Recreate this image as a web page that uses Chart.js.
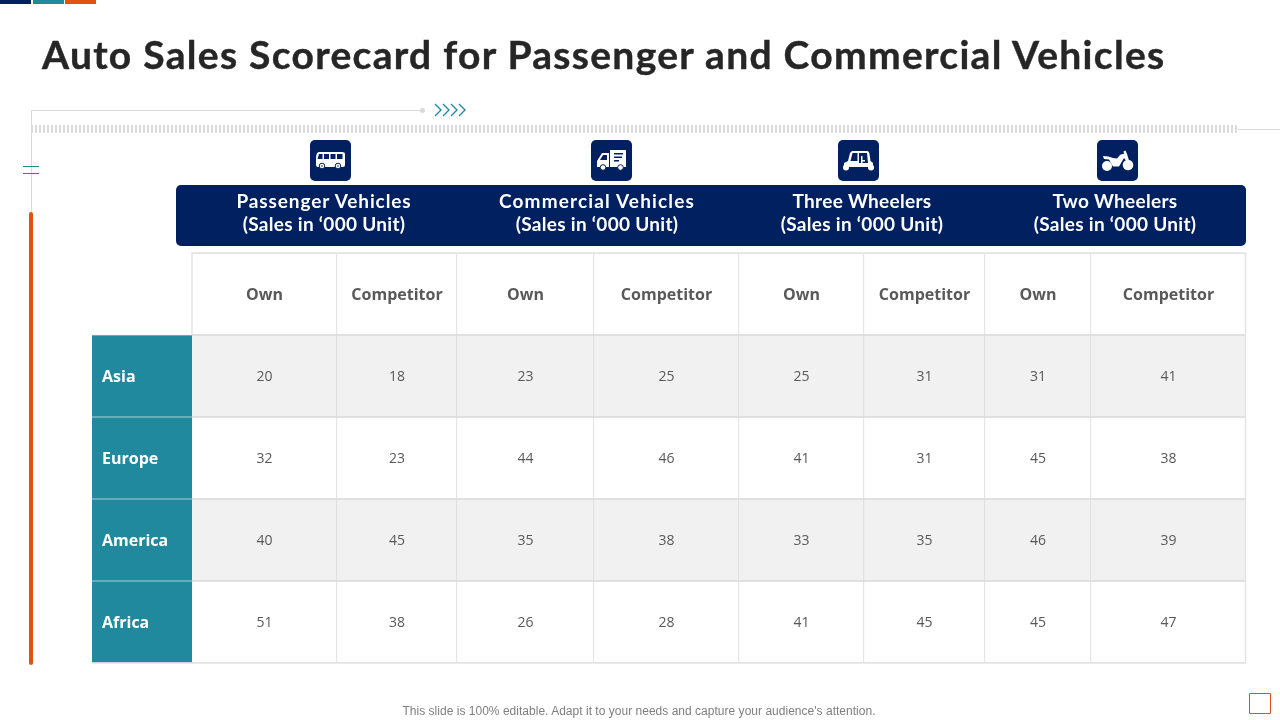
<!DOCTYPE html>
<html>
<head>
<meta charset="utf-8">
<title>Auto Sales Scorecard</title>
<script src="https://cdn.jsdelivr.net/npm/chart.js@4"></script>
<style>
  html, body { margin: 0; padding: 0; background: #fff; }
  #slide { position: relative; width: 1280px; height: 720px; overflow: hidden; }
  #slide > * { position: absolute; }
  canvas { left: 0; top: 0; }
  h1 { left: 42px; top: 31px; margin: 0; font: 700 39px/46px Lato, sans-serif; letter-spacing: 1.29px; color: #262626; white-space: nowrap; -webkit-text-stroke: .4px #262626; }
  .strip { top: 0; height: 4px; width: 31px; }
  .rule { background: #d9d9d9; }
  .ticks { left: 31px; top: 125px; width: 1206px; height: 8px; background: repeating-linear-gradient(90deg, #dcdcdc 0 2px, #fff 2px 4px); }
  #banner { left: 176px; top: 185px; width: 1070px; height: 61px; background: #002060; border-radius: 5px; }
  .head { top: 189px; width: 260px; text-align: center; font: 700 19px/23px Lato, sans-serif; letter-spacing: .3px; color: #fff; white-space: nowrap; }
  .icon { top: 140px; width: 41px; height: 41px; }
  #note { left: 0; width: 1278px; top: 704px; text-align: center; font: 12px/14px "Liberation Sans", sans-serif; letter-spacing: .02px; color: #7f7f7f; }
  #corner { left: 1249px; top: 693px; width: 20px; height: 19px; border: 1px solid #d9541e; border-radius: 1px; }
</style>
</head>
<body>
<div id="slide">
  <canvas id="scorecard" width="1280" height="720"></canvas>

  <div class="strip" style="left:0;background:#002060"></div>
  <div class="strip" style="left:33px;background:#21899e"></div>
  <div class="strip" style="left:65px;background:#e0530f"></div>
  <h1>Auto Sales Scorecard for Passenger and Commercial Vehicles</h1>

  <div class="rule" style="left:31px;top:110px;width:391px;height:1px"></div>
  <div class="rule" style="left:31px;top:110px;width:1px;height:102px"></div>
  <div class="rule" style="left:420px;top:108px;width:5px;height:5px;border-radius:50%"></div>
  <svg style="left:433px;top:103px" width="34" height="14" fill="none" stroke="#21899e" stroke-width="1.4">
    <path d="M2 1l6 6-6 6M10 1l6 6-6 6M18 1l6 6-6 6M26 1l6 6-6 6"/>
  </svg>
  <div class="ticks"></div>
  <div class="rule" style="left:1238px;top:129px;width:42px;height:1px"></div>
  <div style="left:23px;top:166px;width:16px;height:1px;background:#21899e"></div>
  <div style="left:23px;top:173px;width:16px;height:1px;background:#21899e"></div>
  <div style="left:29px;top:212px;width:4px;height:453px;border-radius:2px;background:#e0530f"></div>

  <div id="banner"></div>
  <div class="head" style="left:194px"><span style="letter-spacing:.9px">Passenger Vehicles</span><br>(Sales in ‘000 Unit)</div>
  <div class="head" style="left:467px"><span style="letter-spacing:1.15px">Commercial Vehicles</span><br>(Sales in ‘000 Unit)</div>
  <div class="head" style="left:732px">Three Wheelers<br>(Sales in ‘000 Unit)</div>
  <div class="head" style="left:985px">Two Wheelers<br>(Sales in ‘000 Unit)</div>

  <svg class="icon" style="left:310px" viewBox="0 0 41 41">
    <rect width="41" height="41" rx="5" fill="#002060"/>
    <path fill="#fff" d="M9 12h23q3 0 3 2v11q0 2-2 2H8q-2 0-2-2v-6q0-7 3-7z"/>
    <path fill="#002060" d="M9 14h3.5v5H7.5zM14 14h5v5h-5zM20.5 14h5v5h-5zM27 14h5.500v5H27z"/>
    <circle cx="12" cy="26" r="2.800" fill="#fff" stroke="#002060"/><circle cx="28" cy="26" r="2.800" fill="#fff" stroke="#002060"/>
    <circle cx="12" cy="26" r=".8" fill="#002060"/><circle cx="28" cy="26" r=".8" fill="#002060"/>
  </svg>
  <svg class="icon" style="left:591px" viewBox="0 0 41 41">
    <rect width="41" height="41" rx="5" fill="#002060"/>
    <path fill="#fff" d="M19 10h16v17H19zM18 13v14H6v-6l5-8z"/>
    <path fill="#002060" d="M12 15h4v5H9zM23 13h9v1.400h-9zM23 16.500h8v1.400h-8zM23 20h5v1.400h-5z"/>
    <circle cx="12" cy="27.500" r="2.800" fill="#fff" stroke="#002060"/><circle cx="29.500" cy="27.500" r="2.800" fill="#fff" stroke="#002060"/>
  </svg>
  <svg class="icon" style="left:838px" viewBox="0 0 41 41">
    <rect width="41" height="41" rx="5" fill="#002060"/>
    <path fill="#fff" d="M14 11h15q2 0 2.500 3l1 7 2.500 2v4H6v-4l4-2 2-8z"/>
    <path fill="#002060" d="M14.500 13h5v8h-7zM21 13h8l1 10h-9z"/>
    <path fill="#fff" d="M23 16h1.500v4H27v1.500h-2.500V25H23z"/>
    <circle cx="8" cy="27.500" r="3" fill="#fff"/><circle cx="33" cy="27.500" r="3" fill="#fff"/>
  </svg>
  <svg class="icon" style="left:1097px" viewBox="0 0 41 41">
    <rect width="41" height="41" rx="5" fill="#002060"/>
    <circle cx="10" cy="26" r="5" fill="#fff"/><circle cx="31" cy="25" r="5.300" fill="#fff"/>
    <path fill="#fff" d="M6 16q6 0 10 2l4 .5 3-3.500q2-1.500 4-1l-.5-2.500 2-1 1.500 3.500 2.500 8-2 .5-3.500-4.500-5 8.500h-6l-4-7-5-.5z"/>
  </svg>

  <div id="note">This slide is 100% editable. Adapt it to your needs and capture your audience's attention.</div>
  <div id="corner"></div>
</div>

<script>
const regions = ["Asia", "Europe", "America", "Africa"];
const subHeaders = ["Own", "Competitor", "Own", "Competitor", "Own", "Competitor", "Own", "Competitor"];

const passengerOwn = [20, 32, 40, 51];
const passengerCompetitor = [18, 23, 45, 38];
const commercialOwn = [23, 44, 35, 26];
const commercialCompetitor = [25, 46, 38, 28];
const threeWheelerOwn = [25, 41, 33, 41];
const threeWheelerCompetitor = [31, 31, 35, 45];
const twoWheelerOwn = [31, 45, 46, 45];
const twoWheelerCompetitor = [41, 38, 39, 47];

const series = [
  passengerOwn, passengerCompetitor,
  commercialOwn, commercialCompetitor,
  threeWheelerOwn, threeWheelerCompetitor,
  twoWheelerOwn, twoWheelerCompetitor,
];

// column widths of the table, first one is the region column
const regionColumnWidth = 100;
const columnWidths = [145, 120, 137, 145, 125, 121, 106, 155];

const TEAL = "#21899e";
const LINE = "#d9d9d9";
const OUTLINE = "#e4e4e4";
const STRIPE = "#f1f1f1";

const rowLabels = [""].concat(regions);
const tableWidth = columnWidths.reduce((a, b) => a + b, regionColumnWidth);

const rowFill = (row) => (row === 1 || row === 3 ? STRIPE : "#fff");

const datasets = [
  {
    label: "Region",
    data: rowLabels.map(() => regionColumnWidth),
    backgroundColor: rowLabels.map((_, row) => (row === 0 ? "rgba(0,0,0,0)" : TEAL)),
    borderColor: rowLabels.map((_, row) => (row === 0 ? "rgba(0,0,0,0)" : "#7db8c5")),
    borderWidth: { top: 1, bottom: 1, left: 0, right: 0 },
  },
  ...series.map((values, col) => ({
    label: subHeaders[col],
    data: rowLabels.map(() => columnWidths[col]),
    backgroundColor: rowLabels.map((_, row) => rowFill(row)),
    borderColor: LINE,
    borderWidth: 1,
  })),
];

const cellText = {
  id: "cellText",
  afterDatasetsDraw(chart) {
    const { ctx, chartArea } = chart;
    ctx.save();

    // heavier outline around the table body, the region column only gets the bottom edge
    const firstCol = chart.getDatasetMeta(1).data[0];
    const headerBottom = firstCol.y + firstCol.height / 2;
    ctx.strokeStyle = OUTLINE;
    ctx.lineWidth = 1.5;
    ctx.beginPath();
    ctx.moveTo(firstCol.base, headerBottom);
    ctx.lineTo(firstCol.base, chartArea.top);
    ctx.lineTo(chartArea.right - 0.5, chartArea.top);
    ctx.lineTo(chartArea.right - 0.5, chartArea.bottom);
    ctx.lineTo(chartArea.left, chartArea.bottom);
    ctx.stroke();

    ctx.textBaseline = "middle";

    // region names sit left aligned in the teal column
    const regionBars = chart.getDatasetMeta(0).data;
    ctx.textAlign = "left";
    ctx.fillStyle = "#fff";
    ctx.font = '700 16px "Open Sans", sans-serif';
    regions.forEach((region, i) => {
      const bar = regionBars[i + 1];
      ctx.fillText(region, bar.base + 10, bar.y + 1);
    });

    ctx.textAlign = "center";
    ctx.fillStyle = "#595959";
    series.forEach((values, col) => {
      const bars = chart.getDatasetMeta(col + 1).data;
      const center = (bar) => (bar.x + bar.base) / 2;
      ctx.font = '700 16px "Open Sans", sans-serif';
      ctx.fillText(subHeaders[col], center(bars[0]), bars[0].y + 1);
      ctx.font = '14px "Open Sans", sans-serif';
      values.forEach((value, i) => {
        ctx.fillText(value, center(bars[i + 1]), bars[i + 1].y + 1);
      });
    });
    ctx.restore();
  },
};

new Chart(document.getElementById("scorecard"), {
  type: "bar",
  data: { labels: rowLabels, datasets },
  plugins: [cellText],
  options: {
    indexAxis: "y",
    responsive: false,
    animation: false,
    devicePixelRatio: 1,
    barPercentage: 1,
    categoryPercentage: 1,
    layout: { padding: { left: 92, top: 253, right: 34, bottom: 57 } },
    plugins: { legend: { display: false }, tooltip: { enabled: false } },
    scales: {
      x: { display: false, stacked: true, min: 0, max: tableWidth },
      y: { display: false, stacked: true },
    },
  },
});
</script>
</body>
</html>
